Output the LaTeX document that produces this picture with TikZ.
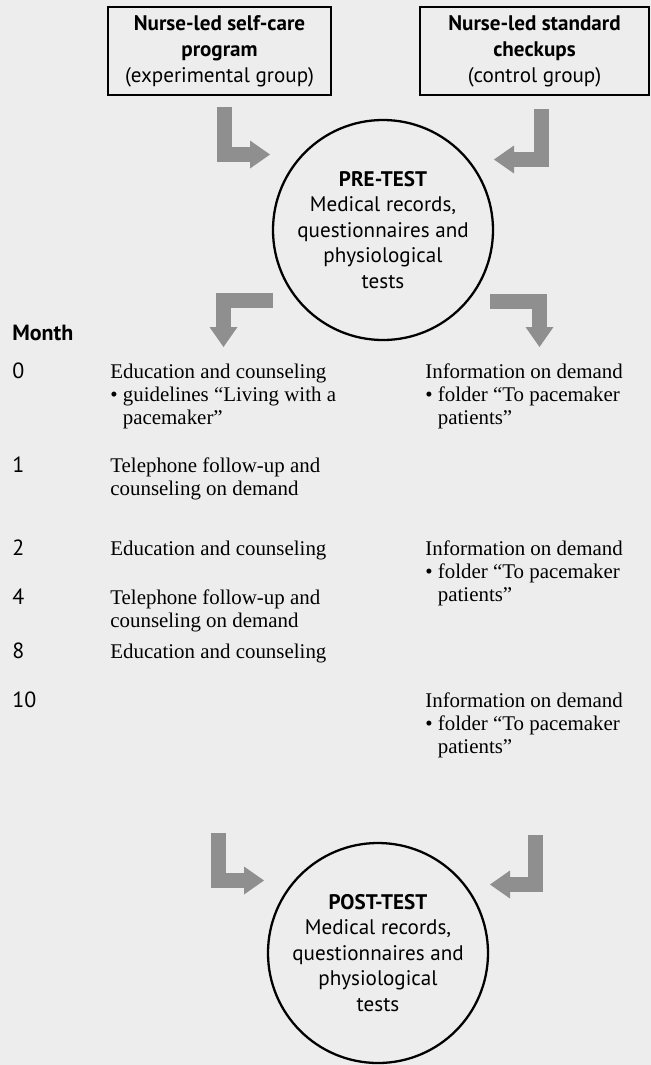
\documentclass[tikz,border=0pt]{standalone}
\usepackage{fontspec}
\setmainfont{PT Sans}
\newfontfamily\serifbody{Liberation Serif}
\usepackage{xcolor}
\usepackage{tikz}
\usetikzlibrary{shapes, arrows.meta}
\definecolor{paper}{gray}{0.93}
\definecolor{arrowgray}{gray}{0.56}
\tikzstyle{group} = [rectangle, draw, line width=1.5pt, text centered, align=center, minimum height=1.76cm, font=\fontsize{12}{14.8}\selectfont]
\tikzstyle{test} = [circle, draw, line width=1.3pt, align=center, minimum size=4.4cm, inner sep=0pt, font=\fontsize{12}{14.5}\selectfont]
\tikzstyle{month} = [anchor=base west, inner sep=0pt, font=\fontsize{12.5}{15}\selectfont]
\tikzstyle{activity} = [anchor=base west, inner sep=0pt, align=left, font=\serifbody\fontsize{11.9}{13.1}\selectfont]
\tikzstyle{bigarrow} = [draw=arrowgray, line width=0.3cm, line join=miter, -{Triangle[width=0.56cm, length=0.4cm, line width=0pt]}]

\begin{document}
\begin{tikzpicture}
        \fill [paper] (0,0) rectangle (13.02,-21.3);
        \useasboundingbox (0,0) rectangle (13.02,-21.3);

        \node [group, minimum width=4.46cm] at (4.39,-1.02) (selfcare)
        {\textbf{Nurse-led self-care}\\\textbf{program}\\(experimental group)};

        \node [group, minimum width=4.58cm] at (10.69,-1.02) (standard)
        {\textbf{Nurse-led standard}\\\textbf{checkups}\\(control group)};

        \node [test] at (7.66,-4.60) (pretest)
        {\textbf{PRE-TEST}\\Medical records,\\questionnaires and\\physiological\\tests};

        \node [test] at (7.56,-19.06) (posttest)
        {\textbf{POST-TEST}\\Medical records,\\questionnaires and\\physiological\\tests};

        \node [month] at (0.24,-6.80) (monthhead) {\textbf{Month}};
        \node [month] at (0.24,-7.56) (m0) {0};
        \node [month] at (0.24,-9.44) (m1) {1};
        \node [month] at (0.24,-11.10) (m2) {2};
        \node [month] at (0.24,-12.08) (m4) {4};
        \node [month] at (0.24,-13.16) (m8) {8};
        \node [month] at (0.24,-14.14) (m10) {10};

        \node [activity] at (2.20,-8.484) (self0)
        {Education and counseling\\\textbullet\ guidelines “Living with a\\\phantom{\textbullet\ }pacemaker”};
        \node [activity] at (2.20,-9.902) (self1)
        {Telephone follow-up and\\counseling on demand};
        \node [activity] at (2.20,-11.10) (self2) {Education and counseling};
        \node [activity] at (2.20,-12.542) (self4)
        {Telephone follow-up and\\counseling on demand};
        \node [activity] at (2.20,-13.16) (self8) {Education and counseling};

        \node [activity] at (8.50,-8.484) (std0)
        {Information on demand\\\textbullet\ folder “To pacemaker\\\phantom{\textbullet\ }patients”};
        \node [activity] at (8.50,-12.024) (std2)
        {Information on demand\\\textbullet\ folder “To pacemaker\\\phantom{\textbullet\ }patients”};
        \node [activity] at (8.50,-15.064) (std10)
        {Information on demand\\\textbullet\ folder “To pacemaker\\\phantom{\textbullet\ }patients”};

        \coordinate (inselfA) at (4.49,-2.14);
        \coordinate (inselfB) at (5.40,-3.09);
        \coordinate (instdA) at (10.82,-2.18);
        \coordinate (instdB) at (9.88,-3.19);
        \coordinate (outselfA) at (5.46,-6.00);
        \coordinate (outselfB) at (4.47,-6.94);
        \coordinate (outstdA) at (9.80,-6.03);
        \coordinate (outstdB) at (10.79,-6.94);
        \coordinate (endselfA) at (4.37,-16.66);
        \coordinate (endselfB) at (5.28,-17.61);
        \coordinate (endstdA) at (10.71,-16.70);
        \coordinate (endstdB) at (9.80,-17.69);

        \path [bigarrow] (inselfA) |- (inselfB);
        \path [bigarrow] (instdA) |- (instdB);
        \path [bigarrow] (outselfA) -| (outselfB);
        \path [bigarrow] (outstdA) -| (outstdB);
        \path [bigarrow] (endselfA) |- (endselfB);
        \path [bigarrow] (endstdA) |- (endstdB);
\end{tikzpicture}
\end{document}
